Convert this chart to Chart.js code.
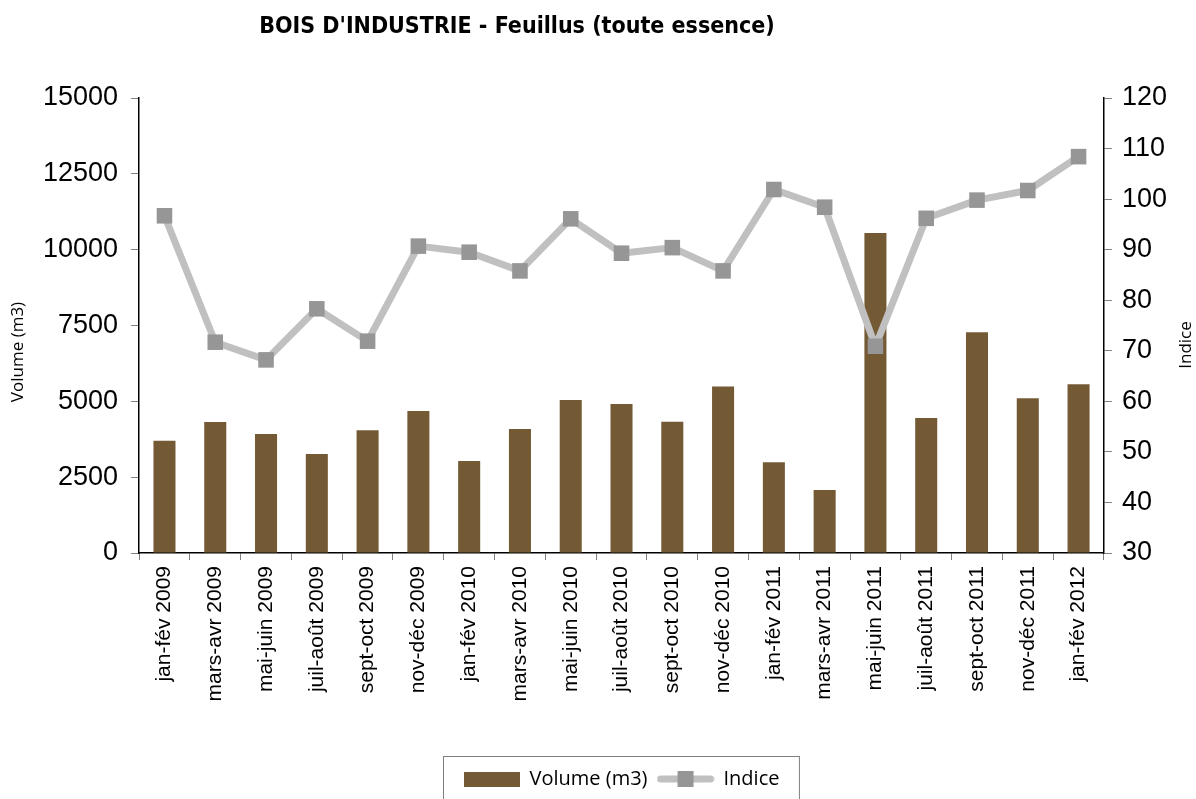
<!DOCTYPE html>
<html>
<head>
<meta charset="utf-8">
<script src="https://cdn.jsdelivr.net/npm/chart.js@4.4.0/dist/chart.umd.min.js"></script>
<style>
  html, body { margin: 0; padding: 0; background: #fff; }
  #wrap { position: relative; width: 1196px; height: 799px; }
  #title {
    position: absolute; left: 517px; top: 14px; transform: translateX(-50%);
    white-space: nowrap;
    font-family: "DejaVu Sans Condensed", sans-serif;
    font-weight: bold; font-size: 23px; line-height: 23px; color: #000;
  }
</style>
</head>
<body>
<div id="wrap">
  <canvas id="chart" width="1196" height="799"></canvas>
  <div id="title">BOIS D'INDUSTRIE - Feuillus (toute essence)</div>
</div>
<script>
const periods = [
  "jan-fév 2009", "mars-avr 2009", "mai-juin 2009", "juil-août 2009", "sept-oct 2009", "nov-déc 2009",
  "jan-fév 2010", "mars-avr 2010", "mai-juin 2010", "juil-août 2010", "sept-oct 2010", "nov-déc 2010",
  "jan-fév 2011", "mars-avr 2011", "mai-juin 2011", "juil-août 2011", "sept-oct 2011", "nov-déc 2011",
  "jan-fév 2012"
];
const volumes = [3700, 4320, 3920, 3260, 4050, 4680, 3030, 4090, 5040, 4910, 4330, 5490, 2990, 2080, 10550, 4450, 7280, 5100, 5560];
const indices = [96.7, 71.7, 68.2, 78.3, 71.9, 90.7, 89.5, 85.8, 96.1, 89.3, 90.4, 85.8, 101.9, 98.4, 70.9, 96.2, 99.8, 101.7, 108.4];
const volumeTicks = [0, 2500, 5000, 7500, 10000, 12500, 15000];
const indiceTicks = [30, 40, 50, 60, 70, 80, 90, 100, 110, 120];

const BROWN = "#745A34";
const LINE_GRAY = "#C0C0C0";
const MARK_GRAY = "#969696";

// little canvases used as legend swatches
function barSwatch() {
  const c = document.createElement("canvas");
  c.width = 56; c.height = 15;
  const g = c.getContext("2d");
  g.fillStyle = BROWN;
  g.fillRect(0, 0, 56, 15);
  return c;
}
function lineSwatch() {
  const c = document.createElement("canvas");
  c.width = 58; c.height = 16;
  const g = c.getContext("2d");
  g.strokeStyle = LINE_GRAY;
  g.lineWidth = 7;
  g.lineCap = "round";
  g.beginPath(); g.moveTo(4, 8); g.lineTo(54, 8); g.stroke();
  g.fillStyle = MARK_GRAY;
  g.fillRect(21, 0, 16, 16);
  return c;
}
const swatches = [barSwatch(), lineSwatch()];

const extras = {
  id: "extras",
  afterDraw(chart) {
    const ctx = chart.ctx;
    ctx.save();
    // axis titles, both read bottom-to-top
    ctx.fillStyle = "#000";
    ctx.font = "17px 'Open Sans'";
    ctx.textAlign = "center";
    ctx.textBaseline = "middle";
    ctx.translate(18, 352);
    ctx.rotate(-Math.PI / 2);
    ctx.fillText("Volume (m3)", 0, 0);
    ctx.setTransform(1, 0, 0, 1, 0, 0);
    ctx.translate(1186, 345);
    ctx.rotate(-Math.PI / 2);
    ctx.fillText("Indice", 0, 0);
    ctx.setTransform(1, 0, 0, 1, 0, 0);
    // legend frame
    const boxes = chart.legend.legendHitBoxes;
    if (boxes && boxes.length) {
      const last = boxes[boxes.length - 1];
      const left = boxes[0].left - 21;
      const right = last.left + last.width + 19;
      const top = boxes[0].top - 13;
      ctx.strokeStyle = "#7f7f7f";
      ctx.lineWidth = 1;
      ctx.strokeRect(Math.round(left) + 0.5, Math.round(top) + 0.5, right - left, 80);
    }
    ctx.restore();
  }
};

const tickFont = { family: "'Liberation Sans', Arial", size: 27 };

new Chart(document.getElementById("chart"), {
  type: "bar",
  data: {
    labels: periods,
    datasets: [
      {
        label: "Volume (m3)",
        data: volumes,
        backgroundColor: BROWN,
        yAxisID: "y",
        order: 1,
        barPercentage: 0.434,
        categoryPercentage: 1
      },
      {
        type: "line",
        label: "Indice",
        data: indices,
        yAxisID: "y1",
        order: 0,
        borderColor: LINE_GRAY,
        borderWidth: 7,
        borderJoinStyle: "round",
        borderCapStyle: "round",
        pointStyle: "rect",
        pointRadius: 11,
        pointBorderWidth: 0,
        pointBackgroundColor: MARK_GRAY,
        pointBorderColor: MARK_GRAY,
        tension: 0
      }
    ]
  },
  options: {
    responsive: false,
    devicePixelRatio: 1,
    animation: false,
    layout: { padding: { top: 98, left: 30, right: 19, bottom: 0 } },
    plugins: {
      tooltip: { enabled: false },
      legend: {
        position: "bottom",
        fullSize: false,
        labels: {
          usePointStyle: true,
          pointStyleWidth: 56,
          padding: 10,
          color: "#000",
          font: { family: "'Open Sans'", size: 20 },
          generateLabels: chart => chart.data.datasets.map((ds, i) => ({
            text: ds.label,
            pointStyle: swatches[i],
            datasetIndex: i,
            hidden: false,
            lineWidth: 0,
            fillStyle: "transparent",
            strokeStyle: "transparent",
            fontColor: "#000"
          }))
        }
      }
    },
    scales: {
      x: {
        grid: { display: true, drawOnChartArea: false, offset: true, tickLength: 7, color: "#808080" },
        border: { color: "#000", width: 1.5 },
        ticks: {
          autoSkip: false, maxRotation: 90, minRotation: 90, padding: 6,
          color: "#000", font: { family: "'Liberation Sans', Arial", size: 21 }
        },
        afterFit: s => { s.height = 206; }
      },
      y: {
        position: "left",
        min: 0, max: 15000,
        afterBuildTicks: s => { s.ticks = volumeTicks.map(v => ({ value: v })); },
        grid: { drawOnChartArea: false, tickLength: 8, color: "#808080" },
        border: { color: "#000", width: 1.5 },
        ticks: { padding: 13, color: "#000", font: tickFont, callback: v => String(v) }
      },
      y1: {
        position: "right",
        min: 30, max: 120,
        afterBuildTicks: s => { s.ticks = indiceTicks.map(v => ({ value: v })); },
        grid: { drawOnChartArea: false, tickLength: 8, color: "#808080" },
        border: { color: "#000", width: 1.5 },
        ticks: { padding: 10, color: "#000", font: tickFont, callback: v => String(v) }
      }
    }
  },
  plugins: [extras]
});
</script>
</body>
</html>
